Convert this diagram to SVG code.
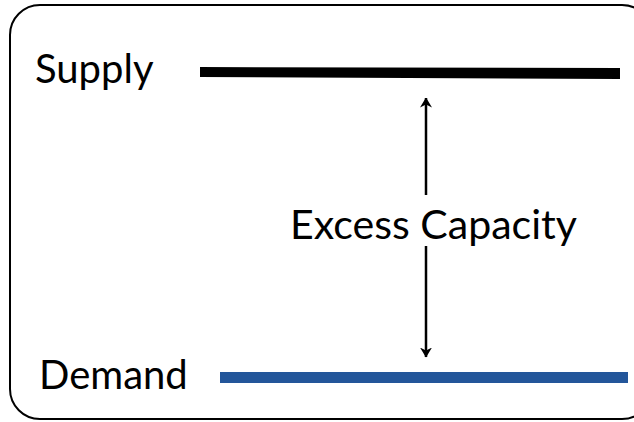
<svg xmlns="http://www.w3.org/2000/svg" width="634" height="422" viewBox="0 0 634 422">
<style>
.t{font-family:Lato,"Open Sans","Liberation Sans",sans-serif;font-size:40px;fill:#000}
.c{stroke:#000;stroke-width:2.5;fill:none}
</style>
<defs>
<marker id="ah" viewBox="0 0 10 12" refX="9.5" refY="6" markerWidth="10" markerHeight="12" orient="auto-start-reverse" markerUnits="userSpaceOnUse">
<path d="M0,0 L10,6 L0,12 L3,6 Z" fill="#000"/>
</marker>
</defs>
<rect width="634" height="422" fill="#fff"/>
<g id="frame"><rect x="10" y="5" width="642" height="414" rx="30" fill="none" stroke="#000" stroke-width="2"/></g>
<g id="supply">
<text class="t" x="35" y="83">Supply</text>
<polygon points="200,67 620,68 620,79 200,77" fill="#000"/>
</g>
<g id="demand">
<text class="t" x="39" y="389">Demand</text>
<rect x="220" y="372" width="408" height="11" fill="#23569a"/>
</g>
<g id="capacity"><text class="t" x="290" y="239" textLength="287" lengthAdjust="spacingAndGlyphs">Excess Capacity</text></g>
<g id="connectors">
<line class="c" x1="426" y1="195" x2="426" y2="98" marker-end="url(#ah)"/>
<line class="c" x1="426" y1="246" x2="426" y2="357" marker-end="url(#ah)"/>
</g>
</svg>
